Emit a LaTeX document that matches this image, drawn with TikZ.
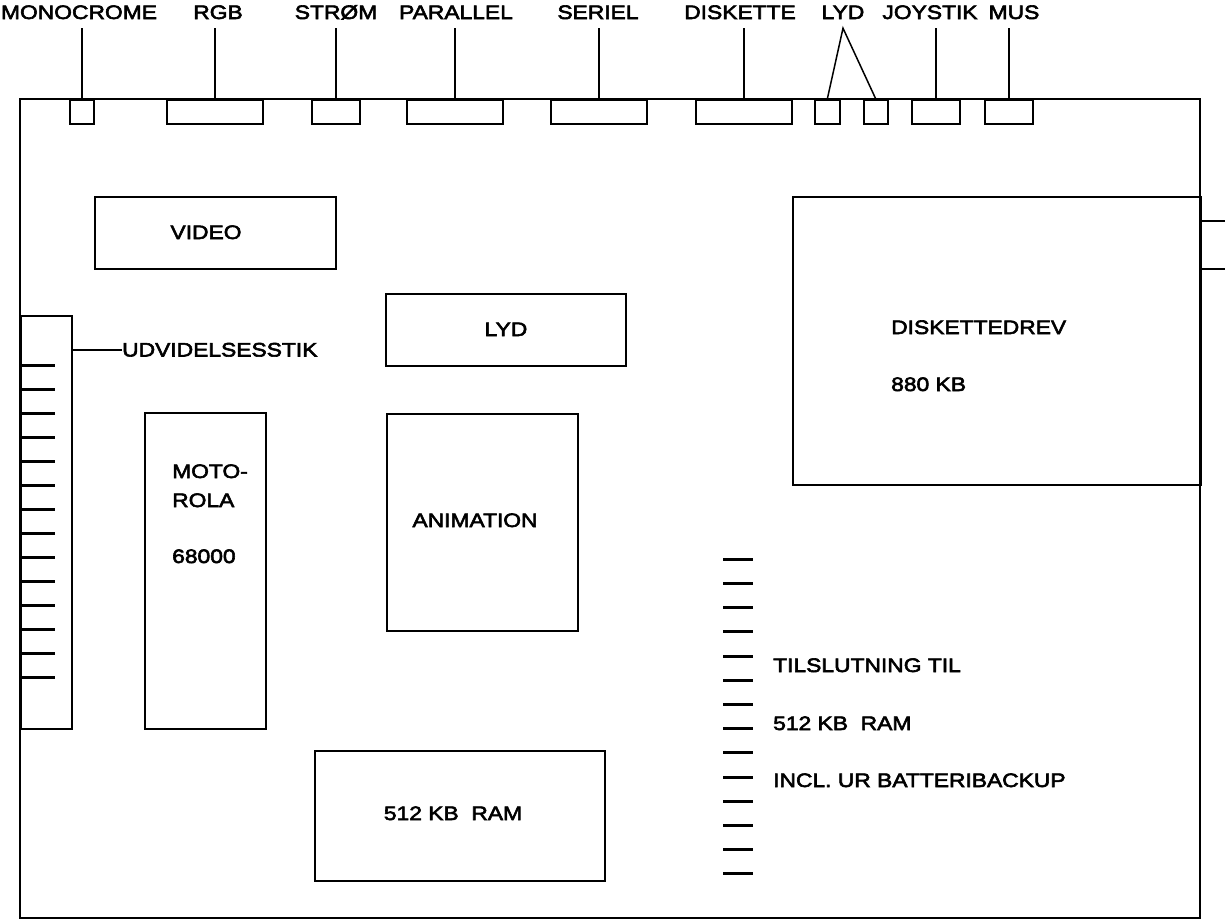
\documentclass[tikz,border=0pt]{standalone}
\usepackage{fontspec}
\setmainfont[FakeStretch=1.17, FakeBold=3]{Liberation Sans}
\usetikzlibrary{positioning}

\begin{document}
\begin{tikzpicture}[x=1pt, y=-1pt,
        every node/.style={font=\fontsize{19.5}{23}\selectfont},
        board/.style={draw, line width=1.8pt},
        chip/.style={rectangle, draw, line width=1.7pt, inner sep=0pt, anchor=north west},
        port/.style={rectangle, draw, line width=1.6pt, inner sep=0pt, anchor=north west,
                     minimum height=24pt},
        lbl/.style={anchor=base, inner xsep=0pt, inner ysep=9pt, text depth=0pt},
        txt/.style={anchor=base west, inner sep=0pt},
        lead/.style={line width=1.5pt},
        pin/.style={line width=3pt}
    ]
    \useasboundingbox (0,0) rectangle (1225,922);

    % main board
    \draw[board] (20,99) rectangle (1200,918);

    % connectors on the back edge
    \node[port, minimum width=24pt] (mono)  at (69,99)  {};
    \node[port, minimum width=96pt] (rgb)   at (166,99) {};
    \node[port, minimum width=48pt] (strom) at (311,99) {};
    \node[port, minimum width=96pt] (par)   at (406,99) {};
    \node[port, minimum width=96pt] (ser)   at (550,99) {};
    \node[port, minimum width=96pt] (disk)  at (695,99) {};
    \node[port, minimum width=25pt] (lyda)  at (814,99) {};
    \node[port, minimum width=24pt] (lydb)  at (863,99) {};
    \node[port, minimum width=48pt] (joy)   at (911,99) {};
    \node[port, minimum width=48pt] (mus)   at (984,99) {};

    \node[lbl] (monoL)  at (79,19)   {MONOCROME};
    \node[lbl] (rgbL)   at (218,19)  {RGB};
    \node[lbl] (stromL) at (336,19)  {STRØM};
    \node[lbl] (parL)   at (456,19)  {PARALLEL};
    \node[lbl] (serL)   at (598,19)  {SERIEL};
    \node[lbl] (diskL)  at (740,19)  {DISKETTE};
    \node[lbl] (lydL)   at (843,19)  {LYD};
    \node[lbl] (joyL)   at (930,19)  {JOYSTIK};
    \node[lbl] (musL)   at (1014,19) {MUS};

    \draw[lead] (mono.north)  -- (mono.north  |- monoL.south);
    \draw[lead] (rgb.north)   -- (rgb.north   |- rgbL.south);
    \draw[lead] (strom.north) -- (strom.north |- stromL.south);
    \draw[lead] (par.north)   -- (par.north   |- parL.south);
    \draw[lead] (ser.north)   -- (ser.north   |- serL.south);
    \draw[lead] (disk.north)  -- (disk.north  |- diskL.south);
    \draw[lead] (lyda.north)  -- (lydL.south) -- (lydb.north);
    \draw[lead] (joy.north)   -- (joy.north   |- joyL.south);
    \draw[lead] (mus.north)   -- (mus.north   |- musL.south);

    % chips
    \node[chip, minimum width=241pt, minimum height=72pt]  (video) at (94,196)  {};
    \node[chip, minimum width=240pt, minimum height=72pt]  (lyd)   at (385,293) {};
    \node[chip, minimum width=191pt, minimum height=217pt] (anim)  at (386,413) {};
    \node[chip, minimum width=121pt, minimum height=316pt] (cpu)   at (144,412) {};
    \node[chip, minimum width=290pt, minimum height=130pt] (ram)   at (314,750) {};
    \node[chip, minimum width=408pt, minimum height=288pt] (drev)  at (792,196) {};
    \node[chip, minimum width=26pt,  minimum height=48pt]  (drevR) at (1200,220) {};
    \node[chip, minimum width=51pt,  minimum height=413pt] (exp)   at (20,315)  {};

    \node[anchor=base] (videoT) at (206,239) {VIDEO};
    \node[anchor=base] (lydT)   at (506,336) {LYD};
    \node[anchor=base] (animT)  at (475,527) {ANIMATION};
    \node[anchor=base] (ramT)   at (453,820) {512 KB\ \ RAM};

    \node[txt] (cpuA) at (172,478) {MOTO-};
    \node[txt] (cpuB) at (172,507) {ROLA};
    \node[txt] (cpuC) at (172,563) {68000};

    \node[txt] (drevA) at (891,334) {DISKETTEDREV};
    \node[txt] (drevB) at (891,391) {880 KB};

    % expansion port
    \node[txt] (expL) at (122,356.5) {UDVIDELSESSTIK};
    \draw[lead] (expL.west) -- (expL.west -| exp.east);
    \foreach \i in {0,...,13}
        \draw[pin] (22,{365.7+24*\i}) -- (55,{365.7+24*\i});

    % memory expansion
    \foreach \i in {0,...,13}
        \draw[pin] (723,{559.3+24.2*\i}) -- (753,{559.3+24.2*\i});
    \node[txt] (memA) at (773,672) {TILSLUTNING TIL};
    \node[txt] (memB) at (773,730) {512 KB\ \ RAM};
    \node[txt] (memC) at (773,787) {INCL. UR BATTERIBACKUP};
\end{tikzpicture}
\end{document}
